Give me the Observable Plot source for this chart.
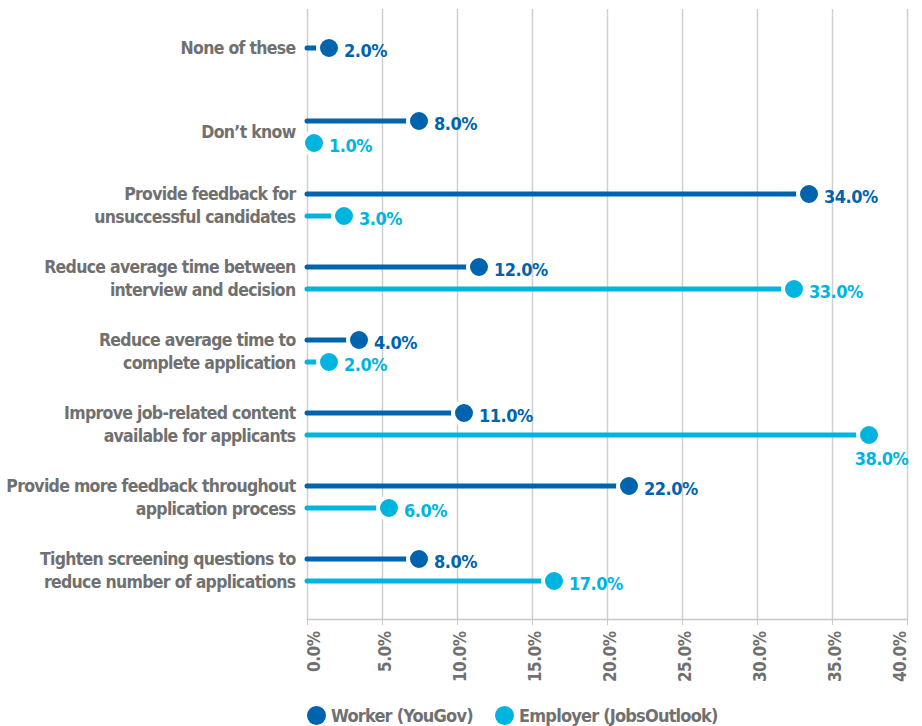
<!DOCTYPE html>
<html><head><meta charset="utf-8">
<script src="https://cdn.jsdelivr.net/npm/d3@7"></script>
<script src="https://cdn.jsdelivr.net/npm/@observablehq/plot@0.6"></script>
<style>
body{margin:0;background:#fff;font-family:"DejaVu Sans",sans-serif;font-stretch:condensed;font-weight:bold;}
#wrap{position:relative;width:922px;height:726px;}
#legend{position:absolute;top:703px;left:0;width:922px;height:24px;font-size:18px;letter-spacing:-0.8px;color:#707070;}
.item{position:absolute;top:0;display:flex;align-items:center;height:24px;white-space:nowrap;}
.sw{width:19px;height:19px;border-radius:50%;display:inline-block;margin-right:5px;}
svg text{letter-spacing:-0.5px;}
svg g.cat text{letter-spacing:-0.7px;}
</style></head><body>
<div id="wrap"><div id="chart"></div><div id="legend"></div></div>
<script>
const categories = [
  "None of these",
  "Don’t know",
  "Provide feedback for\nunsuccessful candidates",
  "Reduce average time between\ninterview and decision",
  "Reduce average time to\ncomplete application",
  "Improve job-related content\navailable for applicants",
  "Provide more feedback throughout\napplication process",
  "Tighten screening questions to\nreduce number of applications"
];
const worker = [2, 8, 34, 12, 4, 11, 22, 8];
const employer = [null, 1, 3, 33, 2, 38, 6, 17];
const seriesNames = ["Worker (YouGov)", "Employer (JobsOutlook)"];
const colors = ["#0063ad", "#00b4e0"];
const xTicks = [0, 5, 10, 15, 20, 25, 30, 35, 40];

const gray = "#707070";
const fs = 18;
const fmt = v => v.toFixed(1) + "%";

const rows = [];
categories.forEach((c, i) => {
  rows.push({category: c, series: seriesNames[0], value: worker[i]});
  if (employer[i] != null) rows.push({category: c, series: seriesNames[1], value: employer[i]});
});
const labelRows = categories.map((c, i) => ({category: c, both: employer[i] != null}));

function seriesMarks(data, color, dy) {
  return [
    Plot.ruleY(data, {y: "category", x1: 0, x2: "value", dy, stroke: color, strokeWidth: 5, strokeLinecap: "round", insetRight: 8}),
    Plot.dot(data, {y: "category", x: "value", dy, dx: -8.5, r: 11, fill: color, stroke: "white", strokeWidth: 4}),
    Plot.text(data.filter(d => d.value < 36), {y: "category", x: "value", dy: dy + 3, dx: 6.5, text: d => fmt(d.value), fill: color, textAnchor: "start", fontSize: fs, fontWeight: "bold"}),
    Plot.text(data.filter(d => d.value >= 36), {y: "category", x: "value", dy: dy + 24, dx: 4, text: d => fmt(d.value), fill: color, textAnchor: "middle", fontSize: fs, fontWeight: "bold"})
  ];
}

const tickText = (ticks, dx) => Plot.axisX({ticks, tickSize: 0, tickPadding: 12, tickRotate: -90, textAnchor: "end", dx, tickFormat: fmt, fill: gray, fontSize: 17, fontWeight: "bold", label: null});

const chart = Plot.plot({
  width: 922,
  height: 690,
  marginLeft: 307,
  marginRight: 15,
  marginTop: 9,
  marginBottom: 71,
  style: {fontFamily: '"DejaVu Sans",sans-serif', fontStretch: "condensed", fontWeight: "bold", background: "white"},
  x: {domain: [0, 40], axis: null, label: null},
  y: {type: "band", domain: categories, padding: 0, insetTop: 11, insetBottom: 12, axis: null, label: null},
  marks: [
    Plot.gridX(xTicks, {stroke: "#cfcfcf", strokeOpacity: 1, strokeWidth: 1.5}),
    Plot.frame({anchor: "bottom", stroke: "#c8c8c8", strokeWidth: 1.5}),
    Plot.axisX({ticks: xTicks, tickSize: 6, tickFormat: () => "", stroke: "#c8c8c8", label: null}),
    tickText(xTicks.filter(t => t === 0), 7.5),
    tickText(xTicks.filter(t => t > 0 && t < 40), 3),
    tickText(xTicks.filter(t => t === 40), -7),
    Plot.text(labelRows.filter(d => d.both), {y: "category", text: "category", frameAnchor: "left", dx: -12, dy: -1, textAnchor: "end", lineHeight: 1.3, fill: gray, fontSize: 17.5, fontWeight: "bold", className: "cat"}),
    Plot.text(labelRows.filter(d => !d.both), {y: "category", text: "category", frameAnchor: "left", dx: -12, dy: -11, textAnchor: "end", fill: gray, fontSize: 17.5, fontWeight: "bold", className: "cat"}),
    ...seriesMarks(rows.filter(d => d.series === seriesNames[0]), colors[0], -11),
    ...seriesMarks(rows.filter(d => d.series === seriesNames[1]), colors[1], 11)
  ]
});
document.getElementById("chart").appendChild(chart);

const legend = document.getElementById("legend");
const lefts = [307, 495];
seriesNames.forEach((s, i) => {
  const item = document.createElement("div");
  item.className = "item";
  item.style.left = lefts[i] + "px";
  const sw = document.createElement("span");
  sw.className = "sw";
  sw.style.background = colors[i];
  item.appendChild(sw);
  item.appendChild(document.createTextNode(s));
  legend.appendChild(item);
});
</script>
</body></html>
